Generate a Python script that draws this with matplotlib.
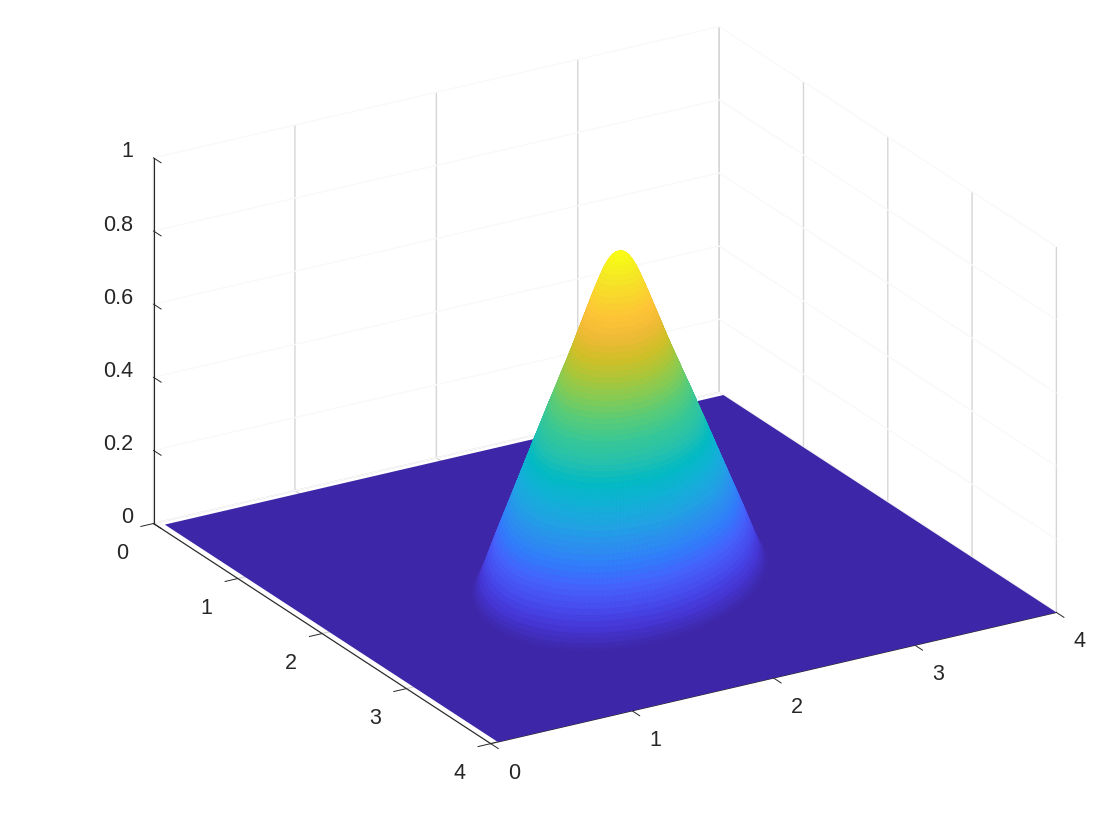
import numpy as np
import matplotlib
matplotlib.use('Agg')
import matplotlib.pyplot as plt
from matplotlib.colors import LinearSegmentedColormap

# profile of the bump
radius = [0.0, 0.0125, 0.025, 0.0375, 0.05, 0.0625, 0.075, 0.0875, 0.1, 0.1125, 0.125, 0.1375, 0.15, 0.1625,
          0.175, 0.1875, 0.2, 0.2125, 0.225, 0.2375, 0.25, 0.2625, 0.275, 0.2875, 0.3, 0.3125, 0.325, 0.3375,
          0.35, 0.3625, 0.375, 0.3875, 0.4, 0.4125, 0.425, 0.4375, 0.45, 0.4625, 0.475, 0.4875, 0.5, 0.5125,
          0.525, 0.5375, 0.55, 0.5625, 0.575, 0.5875, 0.6, 0.6125, 0.625, 0.6375, 0.65, 0.6625, 0.675, 0.6875,
          0.7, 0.7125, 0.725, 0.7375, 0.75, 0.7625, 0.775, 0.7875, 0.8, 0.8125, 0.825, 0.8375, 0.85, 0.8625,
          0.875, 0.8875, 0.9, 0.9125]
height = [0.893, 0.8925, 0.891, 0.888, 0.883, 0.877, 0.869, 0.860, 0.850, 0.838, 0.826, 0.813, 0.800, 0.787,
          0.773, 0.759, 0.745, 0.731, 0.717, 0.703, 0.689, 0.675, 0.660, 0.646, 0.632, 0.619, 0.605, 0.592,
          0.579, 0.566, 0.553, 0.539, 0.526, 0.513, 0.500, 0.487, 0.474, 0.460, 0.447, 0.433, 0.420, 0.406,
          0.393, 0.380, 0.366, 0.352, 0.339, 0.325, 0.311, 0.298, 0.284, 0.271, 0.257, 0.244, 0.230, 0.217,
          0.203, 0.190, 0.176, 0.163, 0.149, 0.136, 0.122, 0.108, 0.094, 0.080, 0.066, 0.052, 0.039, 0.027,
          0.016, 0.007, 0.002, 0.0]
center_x = 2.19
center_y = 1.99
# the foot of the bump is not round, these stretch it towards the viewer
foot_u = (0.22, 1.03)
foot_v = (1.07, -0.59)

floor_x = [0.05, 4.0]
floor_y = [0.05, 4.0]
floor_z = [[0.0, 0.0], [0.0, 0.0]]

xy_ticks = [0, 1, 2, 3, 4]
z_ticks = [0, 0.2, 0.4, 0.6, 0.8, 1]
z_labels = ['0', '0.2', '0.4', '0.6', '0.8', '1']

# parula
parula_colors = [(0.2422, 0.1504, 0.6603), (0.2706, 0.2147, 0.8364), (0.2813, 0.3006, 0.9414),
                 (0.2699, 0.3892, 0.9906), (0.1963, 0.4847, 0.9892), (0.1687, 0.5703, 0.9359),
                 (0.1248, 0.6459, 0.8883), (0.0689, 0.6948, 0.8394), (0.0067, 0.7312, 0.7660),
                 (0.1408, 0.7584, 0.6842), (0.2161, 0.7843, 0.5923), (0.3406, 0.8008, 0.4789),
                 (0.5044, 0.7993, 0.3480), (0.6720, 0.7793, 0.2227), (0.8203, 0.7498, 0.1535),
                 (0.9393, 0.7288, 0.2100), (0.9970, 0.7659, 0.2199), (0.9786, 0.8386, 0.1766),
                 (0.9597, 0.9135, 0.1423), (0.9769, 0.9839, 0.0805)]
parula = LinearSegmentedColormap.from_list('parula', parula_colors)

plt.rcParams['font.family'] = ['Liberation Sans', 'DejaVu Sans']
dark = (0.15, 0.15, 0.15)

fig = plt.figure(figsize=(11.2, 8.4), dpi=100)
ax = fig.add_axes([0.030, 0.028, 1.0, 1.0], projection='3d', proj_type='ortho', computed_zorder=False)
ax.view_init(elev=22.9, azim=-30.8)
ax.set_box_aspect((657, 657, 396), zoom=1.17)

theta = np.linspace(0, 2 * np.pi, 181)
R, T = np.meshgrid(radius, theta)
X = center_x + R * (np.cos(T) * foot_u[0] + np.sin(T) * foot_v[0])
Y = center_y + R * (np.cos(T) * foot_u[1] + np.sin(T) * foot_v[1])
Z = np.tile(height, (len(theta), 1))

FX, FY = np.meshgrid(floor_x, floor_y)
floor = ax.plot_surface(FX, FY, np.array(floor_z), color=parula_colors[0], shade=False, linewidth=0, zorder=1)
bump = ax.plot_surface(X, Y, Z, cmap=parula, vmin=0, vmax=max(height), rstride=1, cstride=1,
                       shade=False, linewidth=0, antialiased=True, zorder=2)
bump.set_edgecolor('face')
bump.set_linewidth(0.5)
floor.set_clip_on(False)
bump.set_clip_on(False)

ax.set_xlim(0, 4)
ax.set_ylim(0, 4)
ax.set_zlim(0, 1)
ax.set_xticks(xy_ticks)
ax.set_yticks(xy_ticks)
ax.set_zticks(z_ticks)
ax.tick_params(axis='x', labelsize=15.5, labelcolor=dark, color=dark, pad=9.3)
ax.tick_params(axis='y', labelsize=15.5, labelcolor=dark, color=dark, pad=13.5)
ax.tick_params(axis='z', color=dark)
ax.zaxis.set_ticks_position('lower')
# ticks of z follow the x direction, like the original
ax.zaxis._get_tickdir = lambda pos: 0

for label in ax.get_xticklabels():
    label.set_va('center_baseline')
for label in ax.get_yticklabels():
    label.set_va('bottom')
for tick in ax.zaxis.get_major_ticks():
    tick.label1.set_visible(False)
    tick.label2.set_visible(False)

# z labels as plain text, the native ones can not sit this high
for value, text in zip(z_ticks, z_labels):
    ax.text(-0.24, 0, value - 0.02, text, ha='right', va='center', fontsize=15.5, color=dark, zorder=3)

for axis in (ax.xaxis, ax.yaxis, ax.zaxis):
    axis.set_pane_color((1, 1, 1, 1))
    axis.pane.set_edgecolor('none')
    axis.line.set_color(dark)
    axis.line.set_linewidth(0.8)
    axis._axinfo['tick']['inward_factor'] = 0.28
    axis._axinfo['tick']['outward_factor'] = 0.0
    axis._axinfo['tick']['linewidth'] = {True: 0.7, False: 0.5}
    axis._axinfo['tick']['color'] = dark
ax.xaxis._axinfo['grid'].update(color=(0.84, 0.84, 0.84), linewidth=1.0)
ax.yaxis._axinfo['grid'].update(color=(0.84, 0.84, 0.84), linewidth=1.0)
ax.zaxis._axinfo['grid'].update(color=(0.975, 0.975, 0.975), linewidth=1.0)

fig.savefig('out.png', dpi=100)
